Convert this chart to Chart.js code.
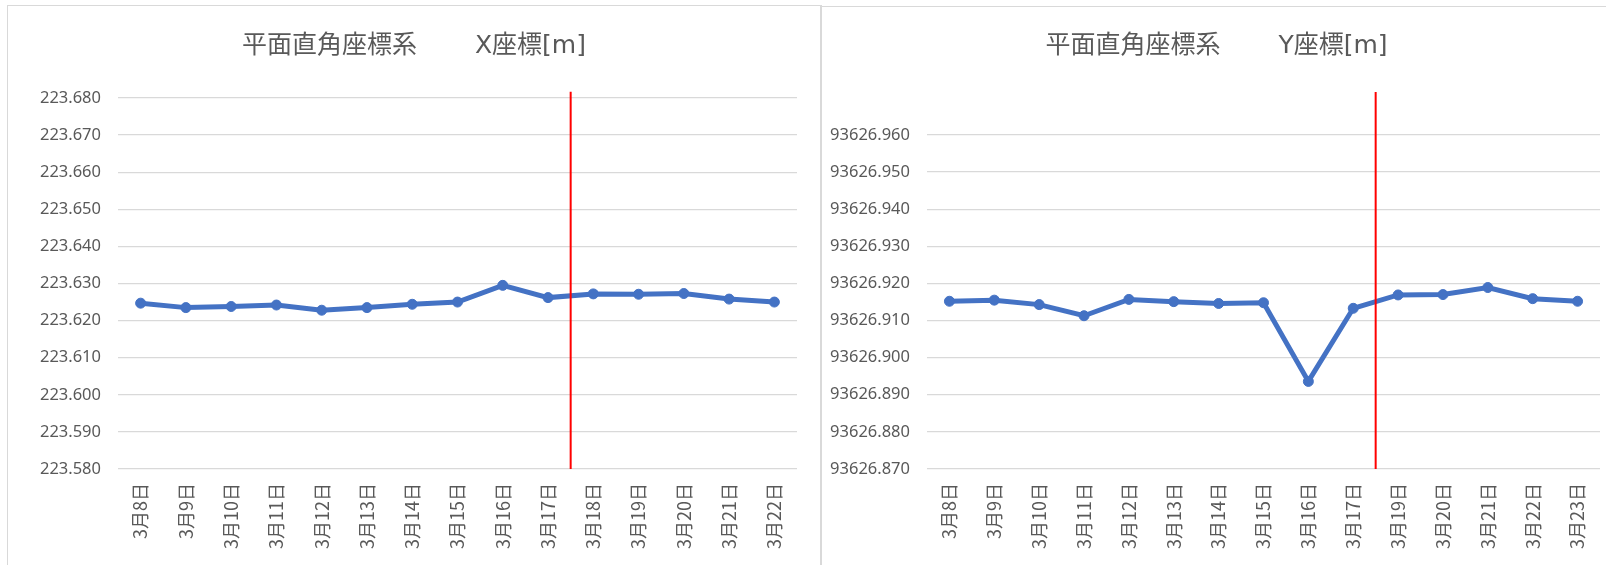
<!DOCTYPE html>
<html>
<head>
<meta charset="utf-8">
<script src="https://cdn.jsdelivr.net/npm/chart.js@4.4.1/dist/chart.umd.min.js"></script>
<style>
  body { margin: 0; background: #fff; overflow: hidden; }
  .frame { position: absolute; border: 1.5px solid #d9d9d9; box-sizing: border-box; }
  .box { position: absolute; }
</style>
</head>
<body>
<div class="frame" style="left:7px;top:5px;width:815px;height:620px;"></div>
<div class="frame" style="left:820px;top:6px;width:900px;height:620px;"></div>
<div class="box" style="left:7px;top:5px;width:814px;height:560px;"><canvas id="chartX"></canvas></div>
<div class="box" style="left:821px;top:6px;width:785px;height:559px;"><canvas id="chartY"></canvas></div>
<script>
// X座標
const datesX = ['3月8日', '3月9日', '3月10日', '3月11日', '3月12日', '3月13日', '3月14日', '3月15日',
  '3月16日', '3月17日', '3月18日', '3月19日', '3月20日', '3月21日', '3月22日'];
const valuesX = [223.6247, 223.6235, 223.6238, 223.6242, 223.6228, 223.6235, 223.6244, 223.6250,
  223.6295, 223.6262, 223.6272, 223.6271, 223.6273, 223.6258, 223.6250];

// Y座標 (3月18日なし)
const datesY = ['3月8日', '3月9日', '3月10日', '3月11日', '3月12日', '3月13日', '3月14日', '3月15日',
  '3月16日', '3月17日', '3月19日', '3月20日', '3月21日', '3月22日', '3月23日'];
const valuesY = [93626.9152, 93626.9155, 93626.9143, 93626.9113, 93626.9157, 93626.9151, 93626.9146, 93626.9148,
  93626.8936, 93626.9133, 93626.9169, 93626.9170, 93626.9189, 93626.9159, 93626.9152];

// red marker line: category position and its top value
const markerX = [9.5, 9.5];
const markerTop = [223.6817, 93626.9716];

const axisX = [223.58, 223.68];
const axisY = [93626.87, 93626.96];

const grey = '#595959';
const blue = '#4472C4';

const markerPlugin = {
  id: 'marker',
  afterDatasetsDraw(chart, args, opts) {
    const xs = chart.scales.x, ys = chart.scales.y;
    const px = xs.getPixelForValue(opts.at);
    const ctx = chart.ctx;
    ctx.save();
    ctx.strokeStyle = '#ff0000';
    ctx.lineWidth = 2;
    ctx.beginPath();
    ctx.moveTo(px, ys.getPixelForValue(opts.top));
    ctx.lineTo(px, ys.getPixelForValue(ys.min));
    ctx.stroke();
    ctx.restore();
  }
};

function makeChart(id, labels, values, range, title, mark, top, yWidth, xHeight, titlePad, pad) {
  return new Chart(document.getElementById(id), {
    type: 'line',
    data: {
      labels: labels,
      datasets: [{
        data: values,
        borderColor: blue,
        backgroundColor: blue,
        borderWidth: 5,
        pointRadius: 5,
        pointBorderWidth: 1,
        tension: 0
      }]
    },
    plugins: [markerPlugin],
    options: {
      responsive: true,
      maintainAspectRatio: false,
      animation: false,
      layout: { padding: { left: pad[0], right: pad[1], top: 0, bottom: 0 } },
      plugins: {
        legend: { display: false },
        tooltip: { enabled: false },
        marker: { at: mark, top: top },
        title: {
          display: true,
          text: title,
          color: grey,
          font: { family: "'DejaVu Sans', 'Noto Sans CJK JP'", size: 25, weight: 'normal' },
          padding: titlePad
        }
      },
      scales: {
        x: {
          offset: true,
          grid: { display: false, drawTicks: false },
          border: { display: false },
          ticks: {
            color: grey,
            autoSkip: false,
            minRotation: 90,
            maxRotation: 90,
            padding: 14,
            font: { family: "'Noto Sans CJK JP'", size: 18 }
          },
          afterFit(s) {
            s.height = xHeight;
            s.paddingLeft = 0;
            s.paddingRight = 0;
          }
        },
        y: {
          min: range[0],
          max: range[1],
          grid: { color: '#d9d9d9', lineWidth: 1.3, drawTicks: false },
          border: { display: false },
          ticks: {
            stepSize: 0.01,
            color: grey,
            padding: 17,
            font: { family: "'Noto Sans'", size: 16.5 },
            callback: v => Number(v).toFixed(3)
          },
          afterFit(s) { s.width = yWidth; }
        }
      }
    }
  });
}

makeChart('chartX', datesX, valuesX, axisX, '平面直角座標系　　 X座標[m]', markerX[0], markerTop[0],
  87, 96, { top: 26, bottom: 37 }, [24, 24]);
makeChart('chartY', datesY, valuesY, axisY, '平面直角座標系　　 Y座標[m]', markerX[1], markerTop[1],
  98, 96, { top: 25, bottom: 74 }, [8, 2]);
</script>
</body>
</html>
